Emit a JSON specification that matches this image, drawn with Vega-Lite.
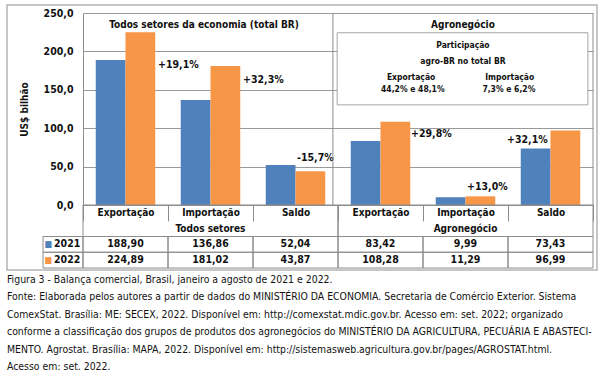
{
  "$schema": "https://vega.github.io/schema/vega-lite/v6.json",
  "width": 590,
  "height": 265,
  "padding": {"left": 7, "top": 5, "right": 7, "bottom": 2},
  "background": "white",
  "config": {
    "font": "DejaVu Sans Condensed, DejaVu Sans, sans-serif",
    "view": {"stroke": "#b4b4b4", "strokeWidth": 1.5},
    "locale": {"number": {"decimal": ",", "thousands": ".", "grouping": [3], "currency": ["R$", ""]}},
    "text": {"color": "#111111"}
  },
  "title": {
    "text": "Figura 3 - Balança comercial, Brasil, janeiro a agosto de 2021 e 2022.",
    "subtitle": [
      "Fonte: Elaborada pelos autores a partir de dados do MINISTÉRIO DA ECONOMIA. Secretaria de Comércio Exterior. Sistema",
      "ComexStat. Brasília: ME: SECEX, 2022. Disponível em: http://comexstat.mdic.gov.br. Acesso em: set. 2022; organizado",
      "conforme a classificação dos grupos de produtos dos agronegócios do MINISTÉRIO DA AGRICULTURA, PECUÁRIA E ABASTECI-",
      "MENTO. Agrostat. Brasília: MAPA, 2022. Disponível em: http://sistemasweb.agricultura.gov.br/pages/AGROSTAT.html.",
      "Acesso em: set. 2022."
    ],
    "orient": "bottom",
    "anchor": "start",
    "frame": "group",
    "offset": 5,
    "fontSize": 10.4,
    "fontWeight": "normal",
    "color": "#111111",
    "subtitleFontSize": 10.4,
    "subtitleColor": "#111111",
    "subtitlePadding": 7,
    "subtitleLineHeight": 17.5
  },
  "datasets": {
    "d": [
      {"grupo": "Todos setores", "cat": "Exportação", "key": "Todos setores|Exportação", "ano": "2021", "valor": 188.90},
      {"grupo": "Todos setores", "cat": "Exportação", "key": "Todos setores|Exportação", "ano": "2022", "valor": 224.89},
      {"grupo": "Todos setores", "cat": "Importação", "key": "Todos setores|Importação", "ano": "2021", "valor": 136.86},
      {"grupo": "Todos setores", "cat": "Importação", "key": "Todos setores|Importação", "ano": "2022", "valor": 181.02},
      {"grupo": "Todos setores", "cat": "Saldo", "key": "Todos setores|Saldo", "ano": "2021", "valor": 52.04},
      {"grupo": "Todos setores", "cat": "Saldo", "key": "Todos setores|Saldo", "ano": "2022", "valor": 43.87},
      {"grupo": "Agronegócio", "cat": "Exportação", "key": "Agronegócio|Exportação", "ano": "2021", "valor": 83.42},
      {"grupo": "Agronegócio", "cat": "Exportação", "key": "Agronegócio|Exportação", "ano": "2022", "valor": 108.28},
      {"grupo": "Agronegócio", "cat": "Importação", "key": "Agronegócio|Importação", "ano": "2021", "valor": 9.99},
      {"grupo": "Agronegócio", "cat": "Importação", "key": "Agronegócio|Importação", "ano": "2022", "valor": 11.29},
      {"grupo": "Agronegócio", "cat": "Saldo", "key": "Agronegócio|Saldo", "ano": "2021", "valor": 73.43},
      {"grupo": "Agronegócio", "cat": "Saldo", "key": "Agronegócio|Saldo", "ano": "2022", "valor": 96.99}
    ],
    "var": [
      {"key": "Todos setores|Exportação", "valor": 224.89, "variacao": "+19,1%"},
      {"key": "Todos setores|Importação", "valor": 181.02, "variacao": "+32,3%"},
      {"key": "Todos setores|Saldo", "valor": 43.87, "variacao": "-15,7%"},
      {"key": "Agronegócio|Exportação", "valor": 108.28, "variacao": "+29,8%"},
      {"key": "Agronegócio|Importação", "valor": 11.29, "variacao": "+13,0%"},
      {"key": "Agronegócio|Saldo", "valor": 96.99, "variacao": "+32,1%"}
    ]
  },
  "resolve": {
    "scale": {"x": "independent", "y": "independent", "color": "independent"},
    "axis": {"x": "independent", "y": "independent"}
  },
  "layer": [
    {
      "data": {"name": "d"},
      "encoding": {
        "x": {
          "field": "key", "type": "nominal",
          "scale": {"domain": ["Todos setores|Exportação", "Todos setores|Importação", "Todos setores|Saldo", "Agronegócio|Exportação", "Agronegócio|Importação", "Agronegócio|Saldo"], "range": [76, 586], "paddingInner": 0, "paddingOuter": 0},
          "axis": {
            "orient": "bottom", "offset": -65, "title": null,
            "labelExpr": "split(datum.value, '|')[1]", "labelAngle": 0,
            "tickBand": "extent", "tickExtra": true, "ticks": true, "tickSize": 16,
            "tickColor": "#8c8c8c", "domainColor": "#8c8c8c",
            "labelPadding": -14, "labelFontSize": 10, "labelFontWeight": "bold",
            "labelColor": "#111111", "grid": false, "labelOverlap": false
          }
        }
      },
      "layer": [
        {
          "mark": {"type": "bar"},
          "encoding": {
            "xOffset": {"field": "ano", "type": "nominal", "scale": {"domain": ["2021", "2022"], "paddingInner": 0, "paddingOuter": 0.4286}},
            "y": {
              "field": "valor", "type": "quantitative",
              "scale": {"domain": [0, 250], "range": [200, 8], "nice": false, "zero": true},
              "axis": {
                "orient": "left", "offset": -76, "values": [0, 50, 100, 150, 200, 250],
                "format": ".1f", "ticks": false, "tickSize": 0, "labelPadding": 10,
                "labelFontSize": 10.5, "labelFontWeight": "bold", "labelColor": "#111111",
                "domain": true, "domainColor": "#8c8c8c",
                "grid": true, "gridColor": "#9a9a9a",
                "title": "US$ bilhão", "titleFontSize": 10, "titleFontWeight": "bold",
                "titleColor": "#111111", "titlePadding": 14
              }
            },
            "color": {"field": "ano", "type": "nominal", "scale": {"domain": ["2021", "2022"], "range": ["#4f81bd", "#f79646"]}, "legend": null}
          }
        },
        {
          "data": {"name": "var"},
          "transform": [{"filter": "datum.key == 'Todos setores|Exportação'"}],
          "mark": {"type": "text", "align": "left", "baseline": "middle", "dx": 32.5, "dy": 32.4, "fontSize": 10.5, "fontWeight": "bold"},
          "encoding": {"y": {"field": "valor", "type": "quantitative"}, "text": {"field": "variacao"}}
        },
        {
          "data": {"name": "var"},
          "transform": [{"filter": "datum.key == 'Todos setores|Importação'"}],
          "mark": {"type": "text", "align": "left", "baseline": "middle", "dx": 32.5, "dy": 13.8, "fontSize": 10.5, "fontWeight": "bold"},
          "encoding": {"y": {"field": "valor", "type": "quantitative"}, "text": {"field": "variacao"}}
        },
        {
          "data": {"name": "var"},
          "transform": [{"filter": "datum.key == 'Todos setores|Saldo'"}],
          "mark": {"type": "text", "align": "left", "baseline": "middle", "dx": 1.5, "dy": -13.4, "fontSize": 10.5, "fontWeight": "bold"},
          "encoding": {"y": {"field": "valor", "type": "quantitative"}, "text": {"field": "variacao"}}
        },
        {
          "data": {"name": "var"},
          "transform": [{"filter": "datum.key == 'Agronegócio|Exportação'"}],
          "mark": {"type": "text", "align": "left", "baseline": "middle", "dx": 30.5, "dy": 12, "fontSize": 10.5, "fontWeight": "bold"},
          "encoding": {"y": {"field": "valor", "type": "quantitative"}, "text": {"field": "variacao"}}
        },
        {
          "data": {"name": "var"},
          "transform": [{"filter": "datum.key == 'Agronegócio|Importação'"}],
          "mark": {"type": "text", "align": "left", "baseline": "middle", "dx": 1.5, "dy": -9.3, "fontSize": 10.5, "fontWeight": "bold"},
          "encoding": {"y": {"field": "valor", "type": "quantitative"}, "text": {"field": "variacao"}}
        },
        {
          "data": {"name": "var"},
          "transform": [{"filter": "datum.key == 'Agronegócio|Saldo'"}],
          "mark": {"type": "text", "align": "left", "baseline": "middle", "dx": -43.5, "dy": 9.4, "fontSize": 10.5, "fontWeight": "bold"},
          "encoding": {"y": {"field": "valor", "type": "quantitative"}, "text": {"field": "variacao"}}
        }
      ]
    },
    {
      "data": {"name": "d"},
      "encoding": {
        "x": {"field": "key", "type": "nominal", "scale": {"domain": ["Todos setores|Exportação", "Todos setores|Importação", "Todos setores|Saldo", "Agronegócio|Exportação", "Agronegócio|Importação", "Agronegócio|Saldo"], "range": [76, 586], "paddingInner": 0, "paddingOuter": 0}, "axis": null},
        "y": {"field": "ano", "type": "nominal", "scale": {"domain": ["cat", "grp", "2021", "2022"], "range": [200, 263], "paddingInner": 0, "paddingOuter": 0}, "axis": null}
      },
      "layer": [
        {"mark": {"type": "rect", "fill": "transparent", "stroke": "#8c8c8c", "strokeWidth": 1}},
        {"mark": {"type": "text", "fontSize": 10.5, "fontWeight": "bold"}, "encoding": {"text": {"field": "valor", "type": "quantitative", "format": ".2f"}}}
      ]
    },
    {
      "data": {"name": "d"},
      "transform": [{"aggregate": [{"op": "count", "as": "n"}], "groupby": ["grupo"]}],
      "encoding": {
        "x": {"field": "grupo", "type": "nominal", "scale": {"domain": ["Todos setores", "Agronegócio"], "range": [76, 586], "paddingInner": 0, "paddingOuter": 0}, "axis": null},
        "y": {"datum": "head", "type": "nominal", "scale": {"domain": ["head", "vals"], "range": [200, 263], "paddingInner": 0, "paddingOuter": 0}, "axis": null}
      },
      "layer": [
        {"mark": {"type": "rect", "fill": "transparent", "stroke": "#8c8c8c", "strokeWidth": 1}},
        {"mark": {"type": "text", "dy": 8, "fontSize": 10, "fontWeight": "bold"}, "encoding": {"text": {"field": "grupo"}}}
      ]
    },
    {
      "data": {"name": "d"},
      "transform": [{"aggregate": [{"op": "count", "as": "n"}], "groupby": ["ano"]}],
      "encoding": {
        "x": {"datum": "leg", "type": "nominal", "scale": {"domain": ["leg"], "range": [36, 76], "paddingInner": 0, "paddingOuter": 0}, "axis": null},
        "y": {"field": "ano", "type": "nominal", "scale": {"domain": ["cat", "grp", "2021", "2022"], "range": [200, 263], "paddingInner": 0, "paddingOuter": 0}, "axis": null}
      },
      "layer": [
        {"mark": {"type": "rect", "fill": "transparent", "stroke": "#8c8c8c", "strokeWidth": 1}},
        {"mark": {"type": "text", "text": "■", "fontSize": 9, "dx": -14.7}, "encoding": {"color": {"field": "ano", "type": "nominal", "scale": {"domain": ["2021", "2022"], "range": ["#4f81bd", "#f79646"]}, "legend": null}}},
        {"mark": {"type": "text", "align": "left", "dx": -9, "fontSize": 10.5, "fontWeight": "bold"}, "encoding": {"text": {"field": "ano"}}}
      ]
    },
    {
      "data": {"values": [{}]},
      "layer": [
        {
          "mark": {"type": "rule", "color": "#8c8c8c", "strokeWidth": 1},
          "encoding": {
            "x": {"datum": 2.94, "type": "quantitative", "scale": {"domain": [0, 6], "range": [76, 586], "nice": false, "zero": false}, "axis": null},
            "y": {"datum": 0, "type": "quantitative", "scale": {"domain": [0, 250], "range": [200, 8], "nice": false}, "axis": null},
            "y2": {"datum": 250}
          }
        },
        {
          "mark": {"type": "rule", "color": "#8c8c8c", "strokeWidth": 1},
          "encoding": {
            "x": {"datum": 6, "type": "quantitative"},
            "y": {"datum": 0, "type": "quantitative"},
            "y2": {"datum": 250}
          }
        },
        {
          "mark": {"type": "rect", "fill": "white", "stroke": "#a6a6a6", "strokeWidth": 1},
          "encoding": {
            "x": {"datum": 2.99, "type": "quantitative"},
            "x2": {"datum": 5.94},
            "y": {"datum": 224.3, "type": "quantitative"},
            "y2": {"datum": 130.4}
          }
        },
        {
          "mark": {"type": "text", "text": "Todos setores da economia (total BR)", "fontSize": 10, "fontWeight": "bold"},
          "encoding": {"x": {"datum": 1.424, "type": "quantitative"}, "y": {"datum": 234.8, "type": "quantitative"}}
        },
        {
          "mark": {"type": "text", "text": "Agronegócio", "fontSize": 10, "fontWeight": "bold"},
          "encoding": {"x": {"datum": 4.47, "type": "quantitative"}, "y": {"datum": 234.8, "type": "quantitative"}}
        },
        {
          "mark": {"type": "text", "text": "Participação", "fontSize": 8.5, "fontWeight": "bold"},
          "encoding": {"x": {"datum": 4.47, "type": "quantitative"}, "y": {"datum": 208.7, "type": "quantitative"}}
        },
        {
          "mark": {"type": "text", "text": "agro-BR no total BR", "fontSize": 8.5, "fontWeight": "bold"},
          "encoding": {"x": {"datum": 4.47, "type": "quantitative"}, "y": {"datum": 187.8, "type": "quantitative"}}
        },
        {
          "mark": {"type": "text", "text": "Exportação", "fontSize": 8.5, "fontWeight": "bold"},
          "encoding": {"x": {"datum": 3.86, "type": "quantitative"}, "y": {"datum": 167.0, "type": "quantitative"}}
        },
        {
          "mark": {"type": "text", "text": "44,2% e 48,1%", "fontSize": 8.5, "fontWeight": "bold"},
          "encoding": {"x": {"datum": 3.88, "type": "quantitative"}, "y": {"datum": 151.3, "type": "quantitative"}}
        },
        {
          "mark": {"type": "text", "text": "Importação", "fontSize": 8.5, "fontWeight": "bold"},
          "encoding": {"x": {"datum": 5.02, "type": "quantitative"}, "y": {"datum": 167.0, "type": "quantitative"}}
        },
        {
          "mark": {"type": "text", "text": "7,3% e 6,2%", "fontSize": 8.5, "fontWeight": "bold"},
          "encoding": {"x": {"datum": 5.01, "type": "quantitative"}, "y": {"datum": 151.3, "type": "quantitative"}}
        }
      ]
    }
  ]
}
